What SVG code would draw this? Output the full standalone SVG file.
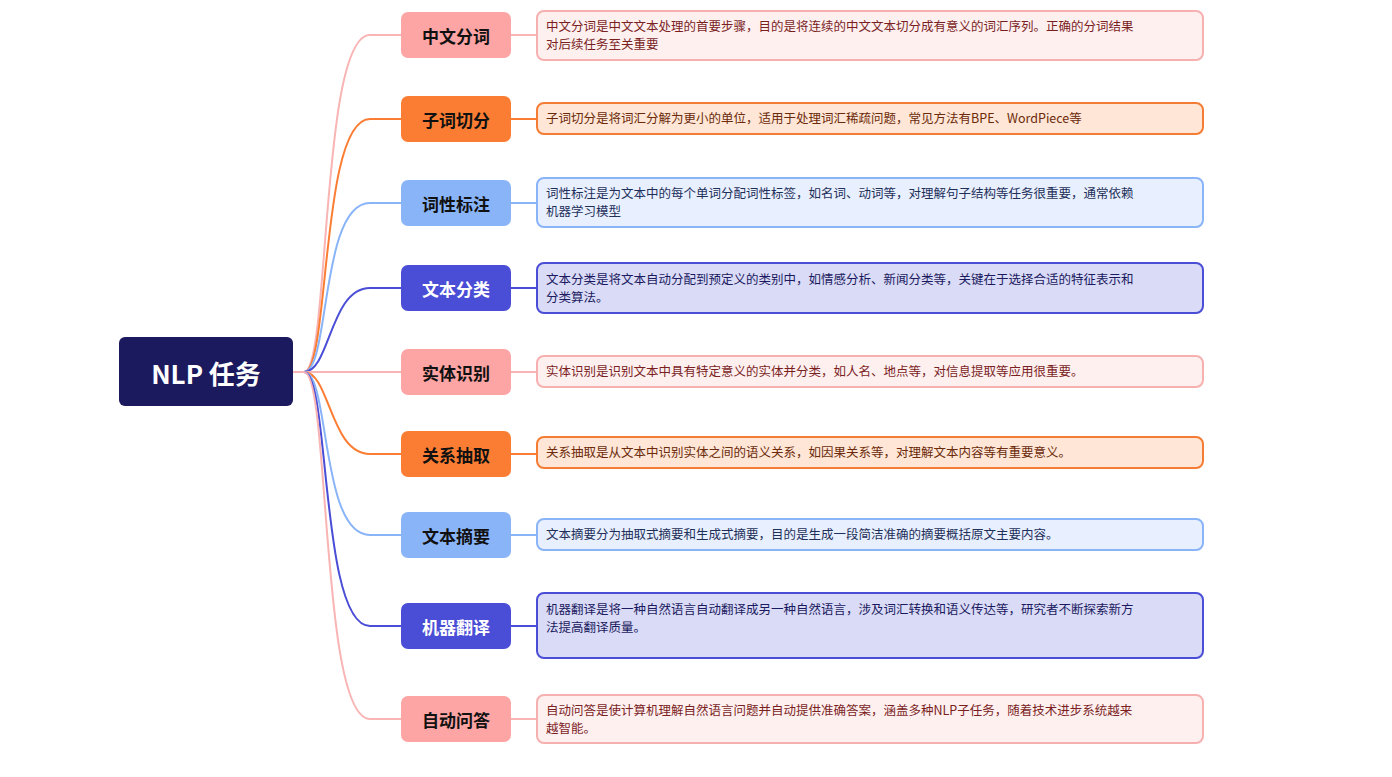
<svg xmlns="http://www.w3.org/2000/svg" width="1392" height="777" viewBox="0 0 1392 777">
<style>
text{font-family:"Noto Sans CJK SC","Noto Sans",sans-serif}
.n{font-size:17px;font-weight:bold;text-anchor:middle;dominant-baseline:central}
.d{font-size:12.5px}
.c{fill:none;stroke-width:2}
.p .nb{fill:#fda4a4}.p .db{fill:#fff0f0;stroke:#f7b0b0}.p .d{fill:#7a1f1f}.p .n{fill:#111}
.o .nb{fill:#fb7d33}.o .db{fill:#ffe6d6;stroke:#f47c34}.o .d{fill:#6b2a0a}.o .n{fill:#111}
.b .nb{fill:#8ab4f8}.b .db{fill:#e8f0ff;stroke:#8ab4f8}.b .d{fill:#1e2f5a}.b .n{fill:#111}
.i .nb{fill:#4a4dd6}.i .db{fill:#d9dbf7;stroke:#4a4dd6}.i .d{fill:#1b1a5e}.i .n{fill:#fff}
.db{stroke-width:2}
</style>
<rect width="1392" height="777" fill="#fff"/>
<g id="connectors">
<path class="c" stroke="#f9b4b4" d="M293 372H304"/>
<path class="c" stroke="#f9b4b4" d="M304 372C330 372 320 35 370 35H401M511 35H537"/>
<path class="c" stroke="#fb7d33" d="M304 372C330 372 320 119 370 119H401M511 119H537"/>
<path class="c" stroke="#8ab4f8" d="M304 372C330 372 320 203 370 203H401M511 203H537"/>
<path class="c" stroke="#4a4dd6" d="M304 372C330 372 330 288 370 288H401M511 288H537"/>
<path class="c" stroke="#f9b4b4" d="M304 372H401M511 372H537"/>
<path class="c" stroke="#fb7d33" d="M304 372C330 372 330 454 370 454H401M511 454H537"/>
<path class="c" stroke="#8ab4f8" d="M304 372C330 372 320 535 370 535H401M511 535H537"/>
<path class="c" stroke="#4a4dd6" d="M304 372C330 372 320 626 370 626H401M511 626H537"/>
<path class="c" stroke="#f9b4b4" d="M304 372C330 372 320 719 370 719H401M511 719H537"/>
</g>
<g id="root"><rect x="119" y="337" width="174" height="69" rx="6" fill="#1b1a5e"/><text x="206" y="372" class="n" style="font-size:26px" fill="#fff">NLP 任务</text></g>
<g id="n1" class="p"><rect class="nb" x="401" y="12" width="110" height="46" rx="7"/><text class="n" x="456" y="35">中文分词</text>
<rect class="db" x="537" y="11" width="666" height="49" rx="7"/><text class="d" x="546" y="31">中文分词是中文文本处理的首要步骤，目的是将连续的中文文本切分成有意义的词汇序列。正确的分词结果</text><text class="d" x="546" y="49">对后续任务至关重要</text></g>
<g id="n2" class="o"><rect class="nb" x="401" y="96" width="110" height="46" rx="7"/><text class="n" x="456" y="119">子词切分</text>
<rect class="db" x="537" y="103" width="666" height="31" rx="7"/><text class="d" x="546" y="123">子词切分是将词汇分解为更小的单位，适用于处理词汇稀疏问题，常见方法有BPE、WordPiece等</text></g>
<g id="n3" class="b"><rect class="nb" x="401" y="180" width="110" height="46" rx="7"/><text class="n" x="456" y="203">词性标注</text>
<rect class="db" x="537" y="178" width="666" height="49" rx="7"/><text class="d" x="546" y="198">词性标注是为文本中的每个单词分配词性标签，如名词、动词等，对理解句子结构等任务很重要，通常依赖</text><text class="d" x="546" y="216">机器学习模型</text></g>
<g id="n4" class="i"><rect class="nb" x="401" y="265" width="110" height="46" rx="7"/><text class="n" x="456" y="288">文本分类</text>
<rect class="db" x="537" y="263" width="666" height="50" rx="7"/><text class="d" x="546" y="284">文本分类是将文本自动分配到预定义的类别中，如情感分析、新闻分类等，关键在于选择合适的特征表示和</text><text class="d" x="546" y="302">分类算法。</text></g>
<g id="n5" class="p"><rect class="nb" x="401" y="349" width="110" height="46" rx="7"/><text class="n" x="456" y="372">实体识别</text>
<rect class="db" x="537" y="356" width="666" height="31" rx="7"/><text class="d" x="546" y="376">实体识别是识别文本中具有特定意义的实体并分类，如人名、地点等，对信息提取等应用很重要。</text></g>
<g id="n6" class="o"><rect class="nb" x="401" y="431" width="110" height="46" rx="7"/><text class="n" x="456" y="454">关系抽取</text>
<rect class="db" x="537" y="437" width="666" height="31" rx="7"/><text class="d" x="546" y="457">关系抽取是从文本中识别实体之间的语义关系，如因果关系等，对理解文本内容等有重要意义。</text></g>
<g id="n7" class="b"><rect class="nb" x="401" y="512" width="110" height="46" rx="7"/><text class="n" x="456" y="535">文本摘要</text>
<rect class="db" x="537" y="519" width="666" height="31" rx="7"/><text class="d" x="546" y="539">文本摘要分为抽取式摘要和生成式摘要，目的是生成一段简洁准确的摘要概括原文主要内容。</text></g>
<g id="n8" class="i"><rect class="nb" x="401" y="603" width="110" height="46" rx="7"/><text class="n" x="456" y="626">机器翻译</text>
<rect class="db" x="537" y="593" width="666" height="65" rx="7"/><text class="d" x="546" y="614">机器翻译是将一种自然语言自动翻译成另一种自然语言，涉及词汇转换和语义传达等，研究者不断探索新方</text><text class="d" x="546" y="632">法提高翻译质量。</text></g>
<g id="n9" class="p"><rect class="nb" x="401" y="696" width="110" height="46" rx="7"/><text class="n" x="456" y="719">自动问答</text>
<rect class="db" x="537" y="695" width="666" height="48" rx="7"/><text class="d" x="546" y="715">自动问答是使计算机理解自然语言问题并自动提供准确答案，涵盖多种NLP子任务，随着技术进步系统越来</text><text class="d" x="546" y="733">越智能。</text></g>
</svg>
